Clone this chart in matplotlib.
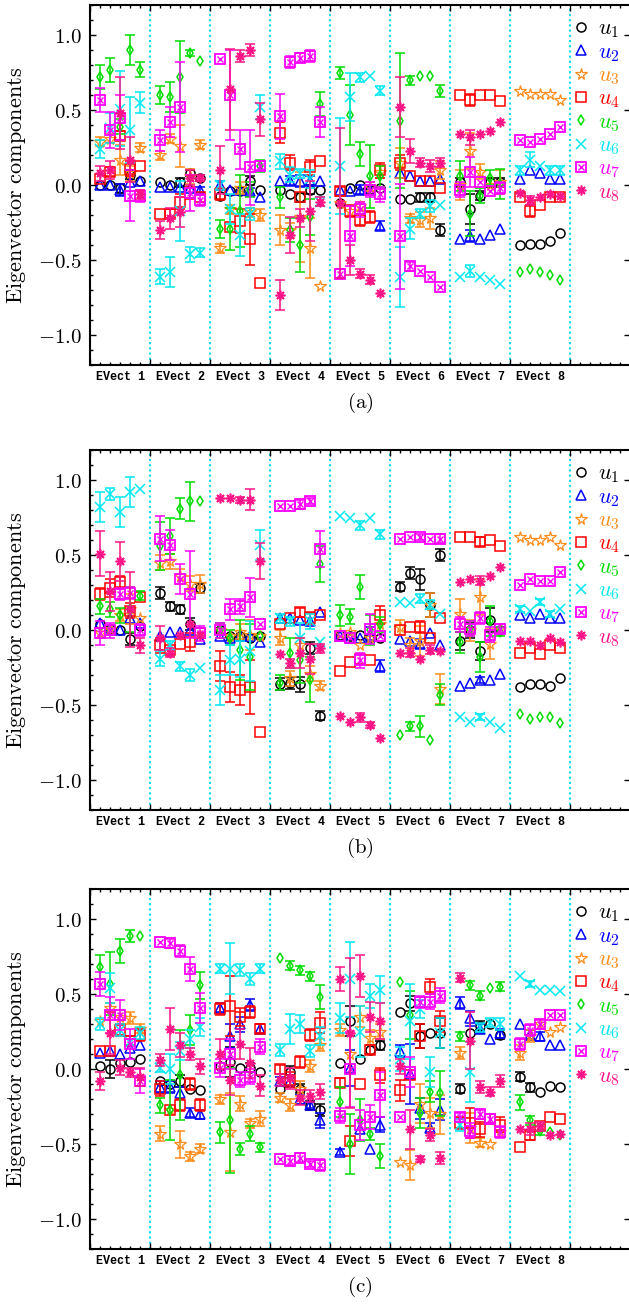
import matplotlib
matplotlib.use('Agg')
import matplotlib.pyplot as plt
import numpy as np
from matplotlib.ticker import MultipleLocator

plt.rcParams['mathtext.fontset'] = 'cm'

# components of the 8 eigenvectors, 5 samples per eigenvector
# panel (a)
A_U1 = [[0.0, 0.0, -0.02, 0.07, 0.03], [0.02, 0.0, 0.02, 0.08, 0.05], [-0.07, -0.04, -0.04, 0.03, -0.03], [-0.03, -0.06, -0.08, -0.03, -0.03],
        [-0.12, -0.02, 0.0, -0.03, -0.02], [-0.09, -0.09, -0.08, -0.08, -0.3], [0.02, -0.16, -0.07, 0.02, 0.02], [-0.4, -0.39, -0.39, -0.37, -0.32]]
A_U1_ERR = [[0, 0, 0.03, 0.03, 0], [0, 0, 0.03, 0.02, 0.02], [0, 0, 0, 0.03, 0], [0, 0, 0.03, 0.03, 0],
            [0, 0, 0, 0.03, 0], [0, 0, 0.03, 0.03, 0.04], [0.03, 0.1, 0.03, 0.03, 0.03], [0, 0, 0, 0, 0]]
A_U2 = [[0.0, 0.0, -0.03, 0.02, 0.03], [-0.01, -0.01, -0.01, -0.02, -0.03], [0.0, -0.03, -0.03, -0.04, -0.08], [0.03, 0.03, 0.03, 0.03, 0.03],
        [-0.03, -0.04, -0.03, -0.03, -0.27], [0.08, 0.06, 0.03, 0.03, 0.04], [-0.36, -0.34, -0.36, -0.33, -0.29], [0.04, 0.1, 0.08, 0.04, 0.04]]
A_U2_ERR = [[0, 0, 0.04, 0, 0], [0, 0, 0, 0, 0.02], [0.03, 0, 0, 0.02, 0], [0, 0.03, 0.04, 0.03, 0],
            [0, 0, 0.03, 0, 0.03], [0, 0, 0, 0, 0], [0, 0.04, 0, 0, 0], [0, 0, 0, 0, 0]]
A_U3 = [[0.29, 0.31, 0.17, 0.08, 0.25], [0.2, 0.31, 0.26, 0.06, 0.27], [-0.42, -0.16, -0.02, -0.18, -0.2], [-0.3, -0.3, -0.21, -0.42, -0.67],
        [-0.12, -0.17, -0.14, -0.01, 0.09], [0.15, -0.22, -0.23, -0.22, 0.1], [0.0, 0.23, 0.09, 0.0, 0.02], [0.63, 0.61, 0.61, 0.61, 0.57]]
A_U3_ERR = [[0.03, 0.03, 0.1, 0.05, 0.03], [0.03, 0.03, 0.14, 0.05, 0.03], [0.03, 0.03, 0.04, 0.03, 0.04], [0.1, 0.05, 0.3, 0.2, 0],
            [0, 0, 0.03, 0.03, 0.04], [0.1, 0.03, 0.05, 0.07, 0.06], [0.1, 0.12, 0.05, 0, 0.08], [0, 0, 0, 0, 0]]
A_U4 = [[0.04, 0.09, 0.33, 0.11, 0.13], [-0.19, -0.19, -0.11, -0.05, -0.08], [-0.06, -0.28, -0.24, -0.36, -0.65], [0.35, 0.15, -0.08, 0.12, 0.16],
        [-0.04, -0.17, -0.23, -0.21, 0.1], [0.15, 0.06, 0.03, 0.03, -0.02], [0.6, 0.57, 0.6, 0.6, 0.56], [-0.08, -0.17, -0.13, -0.08, -0.08]]
A_U4_ERR = [[0, 0.03, 0.03, 0.05, 0], [0, 0.03, 0.05, 0.04, 0], [0.04, 0, 0.08, 0.17, 0], [0.07, 0.05, 0, 0.05, 0],
            [0.03, 0.04, 0.04, 0.04, 0.05], [0.05, 0, 0, 0, 0], [0, 0.04, 0, 0, 0], [0, 0.04, 0, 0, 0]]
A_U5 = [[0.72, 0.77, 0.39, 0.9, 0.77], [0.6, 0.59, 0.72, 0.88, 0.83], [-0.29, -0.29, -0.17, -0.03, 0.13], [-0.08, -0.3, -0.4, -0.21, 0.54],
        [0.75, 0.47, 0.21, 0.06, 0.06], [0.43, 0.7, 0.73, 0.73, 0.63], [0.06, -0.19, -0.07, 0.05, 0.01], [-0.58, -0.56, -0.58, -0.6, -0.63]]
A_U5_ERR = [[0.08, 0.08, 0.05, 0.1, 0.05], [0.06, 0.1, 0.24, 0.02, 0], [0.06, 0.14, 0.24, 0.05, 0.04], [0.07, 0.08, 0.18, 0.12, 0.08],
            [0.04, 0.2, 0.08, 0.21, 0.07], [0.45, 0.03, 0, 0, 0.04], [0.1, 0.15, 0.05, 0.05, 0.1], [0, 0, 0, 0, 0]]
A_U6 = [[0.24, 0.38, 0.51, 0.37, 0.55], [-0.61, -0.58, -0.17, -0.46, -0.45], [0.0, -0.16, -0.33, -0.19, 0.52], [0.16, 0.07, 0.08, 0.04, -0.11],
        [0.13, 0.59, 0.72, 0.73, 0.63], [-0.61, -0.29, -0.19, -0.14, -0.13], [-0.61, -0.57, -0.61, -0.63, -0.66], [0.1, 0.17, 0.13, 0.1, 0.1]]
A_U6_ERR = [[0.06, 0.1, 0.25, 0.22, 0.07], [0.05, 0.1, 0.2, 0.05, 0.03], [0.03, 0.1, 0.14, 0.04, 0.08], [0.05, 0.05, 0.03, 0.06, 0.03],
            [0.32, 0.16, 0.03, 0, 0.03], [0.2, 0.07, 0.03, 0.04, 0], [0, 0.04, 0, 0, 0], [0.03, 0.05, 0, 0.03, 0.03]]
A_U7 = [[0.57, 0.37, 0.45, -0.07, -0.07], [0.3, 0.42, 0.52, -0.05, -0.1], [0.84, 0.6, 0.24, 0.12, 0.13], [0.46, 0.82, 0.85, 0.86, 0.42],
        [-0.59, -0.34, -0.16, -0.03, -0.06], [-0.34, -0.54, -0.57, -0.61, -0.68], [-0.03, 0.09, 0.02, -0.04, -0.02], [0.3, 0.29, 0.31, 0.34, 0.39]]
A_U7_ERR = [[0.08, 0.12, 0.15, 0.17, 0.04], [0.07, 0.1, 0.3, 0.12, 0.04], [0, 0.3, 0.13, 0.25, 0.03], [0.15, 0.04, 0.03, 0.04, 0.1],
            [0.03, 0.2, 0.05, 0.05, 0.05], [0.35, 0.03, 0, 0, 0], [0.05, 0.1, 0, 0, 0.04], [0, 0, 0, 0, 0]]
A_U8 = [[0.08, 0.1, 0.48, 0.17, -0.06], [-0.3, -0.22, -0.18, 0.05, 0.05], [0.1, 0.64, 0.86, 0.9, 0.44], [-0.73, -0.33, -0.22, -0.17, -0.11],
        [-0.12, -0.5, -0.59, -0.63, -0.72], [0.52, 0.23, 0.15, 0.13, 0.15], [0.34, 0.32, 0.34, 0.36, 0.42], [-0.05, -0.1, -0.08, -0.06, -0.07]]
A_U8_ERR = [[0.05, 0.06, 0.24, 0.15, 0.03], [0.06, 0.07, 0.1, 0.05, 0.02], [0.16, 0.27, 0.04, 0.04, 0.11], [0.1, 0.12, 0.06, 0.2, 0.03],
            [0.5, 0.1, 0.03, 0.03, 0], [0.2, 0.08, 0.03, 0.04, 0.03], [0, 0.05, 0, 0, 0], [0, 0.03, 0, 0, 0]]

# panel (b)
B_U1 = [[0.04, 0.01, 0.0, -0.06, 0.03], [0.25, 0.16, 0.14, 0.04, 0.28], [0.0, -0.04, -0.04, -0.05, -0.04], [-0.36, -0.35, -0.36, -0.12, -0.57],
        [-0.03, -0.04, -0.03, -0.05, -0.05], [0.29, 0.38, 0.34, 0.17, 0.5], [-0.07, 0.0, -0.14, 0.07, 0.0], [-0.38, -0.36, -0.36, -0.37, -0.32]]
B_U1_ERR = [[0, 0, 0, 0.04, 0], [0.04, 0.03, 0.03, 0.04, 0.03], [0, 0, 0, 0, 0], [0.04, 0.04, 0.05, 0.04, 0.03],
            [0, 0, 0, 0, 0], [0.03, 0.04, 0.07, 0.08, 0.04], [0.06, 0.05, 0.06, 0.08, 0], [0, 0, 0, 0, 0]]
B_U2 = [[0.05, 0.0, 0.0, 0.08, 0.05], [-0.04, -0.01, -0.01, 0.0, -0.06], [-0.04, -0.05, -0.04, -0.04, -0.08], [0.08, 0.08, 0.07, 0.06, 0.12],
        [-0.04, -0.05, -0.05, -0.03, -0.24], [-0.06, -0.07, -0.09, -0.02, -0.1], [-0.37, -0.35, -0.33, -0.33, -0.29], [0.1, 0.08, 0.11, 0.08, 0.08]]
B_U2_ERR = [[0, 0, 0, 0, 0], [0, 0, 0, 0, 0], [0, 0, 0, 0, 0], [0, 0, 0, 0, 0],
            [0, 0, 0, 0.05, 0.04], [0, 0, 0.03, 0, 0], [0, 0, 0.02, 0, 0], [0, 0, 0, 0, 0]]
B_U3 = [[-0.02, 0.01, 0.1, 0.14, 0.08], [0.45, 0.46, 0.36, 0.31, 0.31], [0.0, -0.04, -0.01, -0.03, -0.04], [-0.05, -0.32, -0.1, -0.29, -0.37],
        [-0.02, -0.01, -0.1, -0.05, 0.04], [0.02, -0.1, -0.07, 0.17, -0.39], [0.11, 0.0, 0.22, -0.09, 0.01], [0.62, 0.6, 0.6, 0.62, 0.57]]
B_U3_ERR = [[0, 0, 0.04, 0.1, 0], [0.05, 0.05, 0.05, 0.05, 0.06], [0.05, 0, 0.05, 0.1, 0], [0.05, 0.05, 0, 0.05, 0.03],
            [0, 0, 0, 0, 0], [0.05, 0.05, 0.1, 0.08, 0.1], [0.1, 0.07, 0.12, 0.1, 0], [0, 0, 0, 0, 0]]
B_U4 = [[0.24, 0.28, 0.32, 0.13, 0.22], [-0.1, -0.13, -0.09, -0.08, -0.02], [-0.24, -0.38, -0.4, -0.38, -0.68], [0.04, 0.08, 0.12, 0.08, 0.1],
        [-0.27, -0.21, -0.19, -0.2, 0.1], [0.0, 0.02, 0.02, -0.05, 0.08], [0.62, 0.62, 0.59, 0.6, 0.56], [-0.15, -0.12, -0.16, -0.1, -0.12]]
B_U4_ERR = [[0.04, 0.06, 0.04, 0.05, 0], [0.05, 0, 0, 0.06, 0], [0.1, 0.1, 0.1, 0.18, 0], [0, 0, 0.03, 0.04, 0],
            [0, 0, 0, 0, 0.06], [0, 0, 0.04, 0, 0], [0, 0, 0.03, 0, 0], [0, 0, 0, 0, 0]]
B_U5 = [[0.16, 0.14, 0.1, 0.14, 0.23], [0.56, 0.63, 0.81, 0.86, 0.86], [0.0, -0.05, -0.13, -0.18, -0.04], [-0.35, -0.15, -0.2, -0.33, 0.44],
        [0.1, 0.09, 0.29, 0.0, 0.04], [-0.7, -0.64, -0.64, -0.73, -0.43], [-0.08, 0.01, -0.18, 0.06, -0.01], [-0.56, -0.59, -0.58, -0.58, -0.62]]
B_U5_ERR = [[0.05, 0.05, 0.05, 0.15, 0.03], [0.16, 0.12, 0.07, 0.13, 0], [0.05, 0.05, 0.2, 0.22, 0], [0.05, 0.1, 0.15, 0.15, 0.12],
            [0.07, 0.05, 0.08, 0.1, 0.05], [0, 0.03, 0.07, 0, 0.07], [0.07, 0.05, 0.1, 0.1, 0.03], [0, 0, 0, 0, 0]]
B_U6 = [[0.82, 0.91, 0.79, 0.92, 0.94], [-0.19, -0.1, -0.24, -0.3, -0.25], [-0.4, -0.2, -0.19, -0.14, 0.57], [0.08, 0.06, -0.05, 0.06, -0.08],
        [0.76, 0.75, 0.7, 0.75, 0.64], [0.19, 0.18, 0.21, 0.17, 0.11], [-0.58, -0.61, -0.58, -0.61, -0.65], [0.14, 0.13, 0.19, 0.11, 0.14]]
B_U6_ERR = [[0.1, 0.04, 0.1, 0.1, 0], [0.05, 0.03, 0.03, 0.04, 0], [0.1, 0.1, 0.12, 0.2, 0.1], [0.03, 0.03, 0.1, 0.05, 0],
            [0, 0, 0.03, 0, 0.03], [0, 0, 0.03, 0.03, 0], [0, 0, 0.02, 0, 0], [0.02, 0, 0.02, 0.02, 0]]
B_U7 = [[-0.02, 0.0, 0.24, 0.25, 0.0], [0.61, 0.57, 0.34, 0.24, -0.02], [0.0, 0.14, 0.16, 0.22, 0.04], [0.83, 0.83, 0.84, 0.86, 0.54],
        [-0.04, -0.05, -0.2, 0.01, -0.04], [0.61, 0.62, 0.62, 0.61, 0.61], [0.04, 0.01, 0.08, -0.03, 0.01], [0.3, 0.34, 0.33, 0.33, 0.39]]
B_U7_ERR = [[0.08, 0.05, 0.04, 0.04, 0.04], [0.15, 0.1, 0.1, 0.29, 0.05], [0.05, 0.07, 0.05, 0.13, 0], [0, 0, 0.03, 0.02, 0.12],
            [0, 0, 0.05, 0.1, 0], [0, 0, 0.02, 0, 0.03], [0.05, 0.05, 0.04, 0.05, 0.03], [0, 0, 0, 0, 0]]
B_U8 = [[0.51, 0.26, 0.46, 0.14, -0.1], [-0.05, -0.15, -0.03, 0.04, -0.03], [0.88, 0.88, 0.87, 0.87, 0.46], [-0.16, -0.22, -0.15, -0.19, -0.12],
        [-0.57, -0.61, -0.58, -0.63, -0.72], [-0.15, -0.15, -0.19, -0.13, -0.14], [0.32, 0.34, 0.33, 0.36, 0.42], [-0.07, -0.07, -0.1, -0.05, -0.08]]
B_U8_ERR = [[0.15, 0.13, 0.13, 0.25, 0.05], [0.08, 0.03, 0, 0, 0], [0, 0, 0.02, 0.07, 0.12], [0, 0.03, 0.1, 0.1, 0.03],
            [0, 0, 0.03, 0.02, 0], [0, 0.03, 0, 0.03, 0], [0, 0, 0.03, 0, 0], [0, 0, 0, 0, 0]]

# panel (c)
C_U1 = [[0.02, 0.0, 0.04, 0.05, 0.07], [-0.08, -0.1, -0.08, -0.13, -0.14], [0.02, 0.05, 0.01, 0.01, -0.02], [-0.13, -0.02, -0.13, -0.24, -0.27],
        [0.04, 0.32, 0.07, 0.13, 0.16], [0.38, 0.44, 0.22, 0.24, 0.24], [-0.13, 0.24, 0.29, 0.3, 0.23], [-0.05, -0.12, -0.15, -0.11, -0.12]]
C_U1_ERR = [[0, 0.06, 0, 0, 0], [0, 0, 0.04, 0, 0], [0, 0.1, 0, 0.03, 0], [0, 0.04, 0.03, 0.03, 0.04],
            [0, 0.1, 0, 0, 0.03], [0, 0.05, 0.08, 0, 0.1], [0.03, 0, 0.03, 0, 0.03], [0.03, 0.03, 0, 0, 0]]
C_U2 = [[0.11, 0.12, 0.1, 0.14, 0.16], [-0.12, -0.12, -0.16, -0.29, -0.3], [0.41, 0.22, 0.3, 0.43, 0.27], [-0.08, -0.08, -0.2, -0.24, -0.34],
        [-0.55, 0.01, -0.4, -0.53, -0.37], [0.12, -0.03, -0.26, -0.39, -0.27], [0.44, 0.34, 0.27, 0.2, 0.24], [0.3, 0.23, 0.22, 0.16, 0.16]]
C_U2_ERR = [[0, 0, 0, 0, 0], [0.04, 0.04, 0.04, 0.03, 0.03], [0.03, 0.08, 0.05, 0.04, 0.03], [0.03, 0.04, 0.03, 0.02, 0.05],
            [0.02, 0.12, 0, 0, 0.05], [0.04, 0.2, 0.07, 0.03, 0.07], [0.04, 0.05, 0.03, 0, 0.03], [0, 0.03, 0.03, 0, 0]]
C_U3 = [[0.32, 0.41, 0.35, 0.34, 0.27], [-0.43, -0.27, -0.5, -0.58, -0.53], [-0.2, -0.42, -0.23, -0.36, -0.33], [-0.19, -0.24, -0.13, 0.02, 0.16],
        [0.26, 0.1, 0.35, 0.21, 0.25], [-0.62, -0.64, -0.23, -0.29, -0.3], [0.11, -0.39, -0.49, -0.5, -0.42], [0.11, 0.22, 0.3, 0.25, 0.28]]
C_U3_ERR = [[0, 0.03, 0, 0.04, 0.03], [0.05, 0, 0.09, 0.03, 0.03], [0.03, 0.26, 0.05, 0.03, 0.05], [0.03, 0.04, 0.05, 0.04, 0.04],
            [0.04, 0, 0.07, 0.05, 0.05], [0, 0.1, 0.13, 0.1, 0.13], [0.04, 0.1, 0.03, 0, 0], [0.05, 0.04, 0, 0, 0]]
C_U4 = [[0.12, 0.12, 0.26, 0.19, 0.23], [-0.13, -0.27, -0.24, -0.1, -0.24], [0.4, 0.42, 0.35, 0.38, 0.27], [0.0, -0.07, 0.05, 0.23, 0.31],
        [-0.09, -0.48, -0.1, 0.13, -0.04], [-0.14, -0.04, 0.22, 0.55, 0.32], [-0.36, -0.36, -0.4, -0.33, -0.37], [-0.52, -0.44, -0.38, -0.32, -0.33]]
C_U4_ERR = [[0, 0, 0.04, 0.03, 0.04], [0.05, 0, 0.04, 0.04, 0.04], [0.04, 0.2, 0.06, 0.04, 0.03], [0.03, 0.05, 0.04, 0.04, 0.07],
            [0.03, 0.1, 0, 0.03, 0.05], [0.07, 0, 0.08, 0.05, 0.07], [0.04, 0.1, 0.05, 0.03, 0.05], [0, 0.03, 0, 0, 0]]
C_U5 = [[0.68, 0.57, 0.79, 0.89, 0.89], [-0.24, -0.27, -0.04, 0.26, 0.56], [-0.42, -0.34, -0.53, -0.43, -0.52], [0.74, 0.69, 0.66, 0.62, 0.48],
        [-0.22, -0.5, -0.34, -0.43, -0.58], [0.58, 0.36, -0.29, -0.15, -0.16], [0.22, 0.56, 0.49, 0.54, 0.55], [-0.22, -0.34, -0.41, -0.42, -0.44]]
C_U5_ERR = [[0.08, 0.21, 0.08, 0.04, 0], [0.05, 0.2, 0.3, 0.1, 0.09], [0.07, 0.35, 0.04, 0.05, 0.03], [0, 0.03, 0.03, 0.03, 0.08],
            [0.1, 0.2, 0.14, 0.04, 0.08], [0, 0.16, 0.1, 0.07, 0.15], [0.03, 0.03, 0.03, 0, 0.03], [0.05, 0.03, 0.03, 0, 0]]
C_U6 = [[0.3, 0.54, 0.26, 0.18, 0.24], [0.01, 0.0, 0.12, 0.2, 0.28], [0.67, 0.67, 0.66, 0.6, 0.67], [0.13, 0.27, 0.3, 0.12, 0.22],
        [0.34, 0.6, 0.25, 0.49, 0.53], [0.07, 0.32, 0.4, -0.02, 0.24], [-0.37, -0.02, 0.28, 0.31, 0.3], [0.62, 0.57, 0.53, 0.53, 0.52]]
C_U6_ERR = [[0.04, 0.1, 0.04, 0, 0.04], [0.03, 0.1, 0.06, 0.06, 0.06], [0.03, 0.17, 0.04, 0.04, 0.03], [0.04, 0.1, 0.06, 0.04, 0.06],
            [0.1, 0.25, 0.17, 0.08, 0.09], [0.08, 0.25, 0.06, 0.1, 0.1], [0.04, 0.2, 0.03, 0.03, 0.04], [0, 0.02, 0, 0, 0]]
C_U7 = [[0.57, 0.36, 0.36, 0.17, -0.08], [0.85, 0.84, 0.79, 0.67, 0.41], [0.01, 0.1, -0.07, -0.05, 0.15], [-0.6, -0.61, -0.59, -0.63, -0.64],
        [-0.31, 0.0, -0.37, -0.32, -0.17], [-0.32, -0.02, 0.45, 0.45, 0.49], [-0.32, -0.41, -0.3, -0.33, -0.42], [0.17, 0.26, 0.3, 0.36, 0.36]]
C_U7_ERR = [[0.08, 0.12, 0.1, 0.1, 0.08], [0, 0.03, 0.04, 0.08, 0.1], [0.06, 0.1, 0.05, 0.05, 0.05], [0, 0.03, 0.03, 0.02, 0.04],
            [0.05, 0.25, 0.1, 0.08, 0.15], [0, 0.1, 0.04, 0.05, 0.05], [0.03, 0.05, 0.03, 0.03, 0.04], [0.04, 0.04, 0.03, 0, 0]]
C_U8 = [[-0.08, 0.24, 0.01, -0.02, -0.05], [0.06, 0.27, 0.16, 0.1, 0.02], [0.1, -0.07, 0.17, 0.04, -0.11], [-0.07, -0.06, -0.19, -0.18, -0.15],
        [0.6, 0.24, 0.62, 0.35, 0.32], [0.02, -0.4, -0.6, -0.44, -0.59], [0.61, 0.19, -0.12, -0.15, -0.08], [-0.4, -0.4, -0.38, -0.44, -0.43]]
C_U8_ERR = [[0.06, 0.14, 0.05, 0.03, 0.06], [0.04, 0.14, 0.08, 0.04, 0.05], [0.1, 0.1, 0.1, 0.1, 0.07], [0.04, 0.07, 0.05, 0.04, 0.05],
            [0.08, 0.5, 0.14, 0.1, 0.12], [0.05, 0.13, 0.02, 0.04, 0.04], [0.03, 0.19, 0.04, 0.03, 0.04], [0, 0.04, 0.03, 0, 0]]

groups = ['EVect %d' % i for i in range(1, 9)]
names = [r'$u_{\mathbf{%d}}$' % i for i in range(1, 9)]
captions = ['(a)', '(b)', '(c)']
colors = ['#000000', '#0000ff', '#ff8c1a', '#ff0000', '#00dd00', '#00e8f0', '#ff00ff', '#ff1488']

panels = [
    ([A_U1, A_U2, A_U3, A_U4, A_U5, A_U6, A_U7, A_U8],
     [A_U1_ERR, A_U2_ERR, A_U3_ERR, A_U4_ERR, A_U5_ERR, A_U6_ERR, A_U7_ERR, A_U8_ERR]),
    ([B_U1, B_U2, B_U3, B_U4, B_U5, B_U6, B_U7, B_U8],
     [B_U1_ERR, B_U2_ERR, B_U3_ERR, B_U4_ERR, B_U5_ERR, B_U6_ERR, B_U7_ERR, B_U8_ERR]),
    ([C_U1, C_U2, C_U3, C_U4, C_U5, C_U6, C_U7, C_U8],
     [C_U1_ERR, C_U2_ERR, C_U3_ERR, C_U4_ERR, C_U5_ERR, C_U6_ERR, C_U7_ERR, C_U8_ERR]),
]

# marker style per component
styles = [
    dict(marker='o', ms=6.5, mfc='none', mew=1.1),
    dict(marker='^', ms=7.0, mfc='none', mew=1.1),
    dict(marker='*', ms=8.5, mfc='none', mew=0.9),
    dict(marker='s', ms=7.0, mfc='none', mew=1.1),
    dict(marker='d', ms=5.5, mfc='none', mew=1.1),
    dict(marker='x', ms=7.0, mew=1.1),
    dict(marker='s', ms=7.0, mfc='none', mew=1.3),
    dict(marker=(8, 2, 0), ms=7.0, mew=1.2),
]

W, H = 629, 1305
fig = plt.figure(figsize=(W / 100, H / 100), dpi=100)
tops = [5, 450, 889]

for p, (vals, errs) in enumerate(panels):
    ax = fig.add_axes([90 / W, 1 - (tops[p] + 360) / H, 540 / W, 360 / H])
    ax.set_xlim(0, 9)
    ax.set_ylim(-1.2, 1.2)

    for g in range(1, 9):
        ax.axvline(g, color='#00e0f0', ls=(0, (1, 1.5)), lw=1.5, zorder=1)

    handles = []
    for s in range(8):
        y = np.array(vals[s], dtype=float)
        e = np.array(errs[s], dtype=float)
        x = np.arange(8)[:, None] + (np.arange(1, 6)[None, :] / 6.0)
        x, y, e = x.ravel(), y.ravel(), e.ravel()
        c = colors[s]
        m = e > 0
        ax.errorbar(x[m], y[m], yerr=e[m], fmt='none', ecolor=c, elinewidth=1.1,
                    capsize=3.3, capthick=1.1, zorder=2 + s)
        h, = ax.plot(x, y, ls='none', color=c, mec=c, zorder=2.5 + s, **styles[s])
        if s == 6:
            h2, = ax.plot(x, y, ls='none', marker='x', ms=5, mec=c, mew=1.0, zorder=2.5 + s)
            handles.append((h, h2))
        else:
            handles.append(h)

    ax.legend(handles, names, loc='upper left', bbox_to_anchor=(0.89, 0.962),
              frameon=False, fontsize=16, handlelength=0.9, handletextpad=0.35,
              labelspacing=0.07, borderaxespad=0, borderpad=0, labelcolor=colors)

    # axes frame and ticks
    for sp in ax.spines.values():
        sp.set_linewidth(1.5)
    ax.set_xticks(np.arange(0, 10))
    ax.xaxis.set_minor_locator(MultipleLocator(1 / 6))
    ax.set_xticklabels([])
    ax.set_yticks([-1.0, -0.5, 0.0, 0.5, 1.0],
                  [r'$-1.0$', r'$-0.5$', r'$0.0$', r'$0.5$', r'$1.0$'])
    ax.yaxis.set_minor_locator(MultipleLocator(0.1))
    ax.tick_params(which='both', direction='in', top=True, right=True, width=1.0)
    ax.tick_params(which='major', length=4.0, labelsize=15, pad=6)
    ax.tick_params(axis='x', which='minor', length=2.5)
    ax.tick_params(axis='y', which='minor', length=2.3, right=False)

    for g in range(8):
        ax.text(g + 0.5, -12 / 360, groups[g], transform=ax.get_xaxis_transform(),
                ha='center', va='center', family='Liberation Mono', weight='bold', fontsize=8.5)
    ax.text(0.5, -38 / 360, r'$\mathrm{%s}$' % captions[p], transform=ax.transAxes,
            ha='center', va='center', fontsize=15)
    ax.text(-73 / 540, 0.5, r'$\mathrm{Eigenvector\ components}$', transform=ax.transAxes,
            rotation=90, ha='center', va='center', fontsize=16)

fig.savefig('out.png', dpi=100)
